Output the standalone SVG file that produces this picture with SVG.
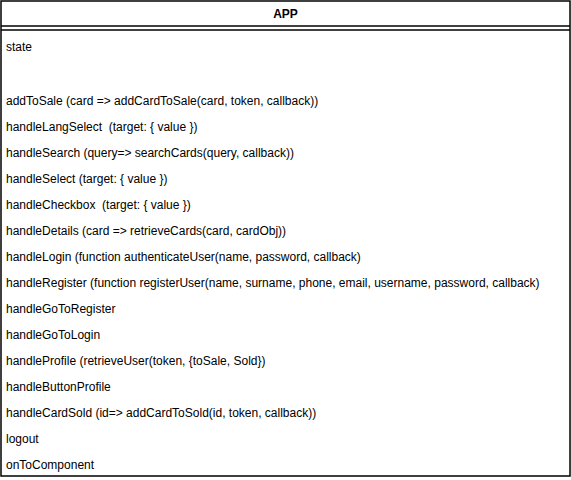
<svg xmlns="http://www.w3.org/2000/svg" width="571" height="480" viewBox="0 0 571 480">
<style>
.t{font-family:"Liberation Sans",Arial,Helvetica,sans-serif;font-size:12px;fill:#000;white-space:pre}
.h{font-weight:bold;text-anchor:middle}
.ln{stroke:#000;stroke-width:1.5;fill:none}
</style>
<rect width="571" height="480" fill="#fff"/>
<g id="app">
<rect class="ln" x="1" y="1" width="569" height="475" fill="#fff"/>
<line class="ln" x1="1" y1="26" x2="570" y2="26"/>
<line class="ln" x1="1" y1="30" x2="570" y2="30"/>
<text class="t h" x="285.5" y="18">APP</text>
<text class="t" x="6" y="51">state</text>
<text class="t" x="6" y="105">addToSale (card =&gt; addCardToSale(card, token, callback))</text>
<text class="t" x="6" y="131" xml:space="preserve">handleLangSelect  (target: { value })</text>
<text class="t" x="6" y="157">handleSearch (query=&gt; searchCards(query, callback))</text>
<text class="t" x="6" y="183">handleSelect (target: { value })</text>
<text class="t" x="6" y="209" xml:space="preserve">handleCheckbox  (target: { value })</text>
<text class="t" x="6" y="235">handleDetails (card =&gt; retrieveCards(card, cardObj))</text>
<text class="t" x="6" y="261">handleLogin (function authenticateUser(name, password, callback)</text>
<text class="t" x="6" y="287">handleRegister (function registerUser(name, surname, phone, email, username, password, callback)</text>
<text class="t" x="6" y="313">handleGoToRegister</text>
<text class="t" x="6" y="339">handleGoToLogin</text>
<text class="t" x="6" y="365">handleProfile (retrieveUser(token, {toSale, Sold})</text>
<text class="t" x="6" y="391">handleButtonProfile</text>
<text class="t" x="6" y="417">handleCardSold (id=&gt; addCardToSold(id, token, callback))</text>
<text class="t" x="6" y="443">logout</text>
<text class="t" x="6" y="469">onToComponent</text>
</g>
<g id="connectors"></g>
</svg>
